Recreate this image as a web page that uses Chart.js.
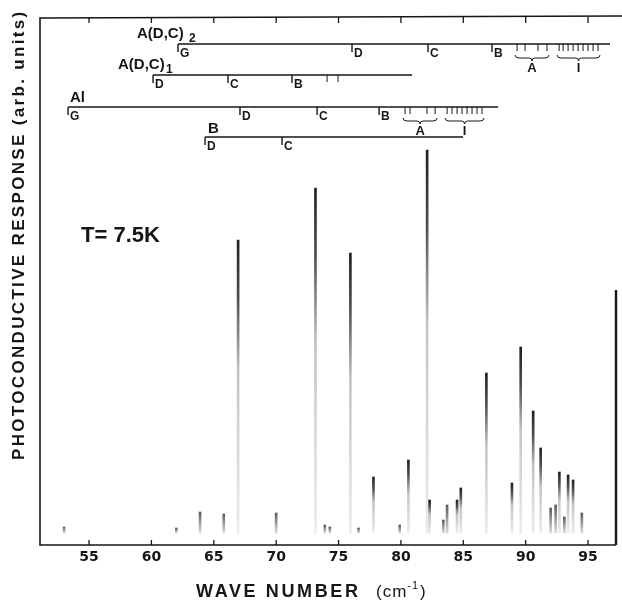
<!DOCTYPE html>
<html>
<head>
<meta charset="utf-8">
<script src="https://cdn.jsdelivr.net/npm/chart.js@4.4.1/dist/chart.umd.min.js"></script>
<style>
  html, body { margin: 0; padding: 0; background: #fff; }
</style>
</head>
<body>
<canvas id="spectrum" width="622" height="602"></canvas>
<script>
// x axis (wave number, cm-1)
const tickValues = [55, 60, 65, 70, 75, 80, 85, 90, 95];
const xMin = 51.07;
const xMax = 97.40;

// spectrum lines: position and height (arb. units)
const peakWaveNumbers = [53.0, 62.0, 63.9, 65.8, 66.95, 70.0, 73.15, 73.9, 74.3, 75.95, 76.6, 77.8,
  79.9, 80.6, 82.1, 82.3, 83.4, 83.7, 84.5, 84.8, 86.85, 88.9, 89.6, 90.6, 91.2, 92.0, 92.4, 92.7,
  93.1, 93.4, 93.8, 94.5];
const peakHeights = [1.2, 1.0, 4.2, 3.8, 58.6, 4.0, 69.0, 1.6, 1.2, 56.0, 1.0, 11.2,
  1.6, 14.6, 76.6, 6.6, 2.6, 5.6, 6.6, 9.0, 32.0, 10.0, 37.2, 24.4, 17.0, 5.0, 5.6, 12.2,
  3.2, 11.6, 10.6, 4.0];

// level series drawn above the spectrum
const adc2Marks = ['G', 'D', 'C', 'B'];
const adc2MarkValues = [62.13, 76.08, 82.17, 87.30];
const adc2AValues = [89.31, 89.95, 90.99, 91.71];
const adc2IValues = [92.68, 93.0, 93.4, 93.8, 94.2, 94.6, 95.0, 95.4, 95.8];
const adc2End = 96.76;

const adc1Marks = ['D', 'C', 'B'];
const adc1MarkValues = [60.13, 66.14, 71.27];
const adc1ExtraValues = [74.08, 74.96];
const adc1End = 80.89;

const alMarks = ['G', 'D', 'C', 'B'];
const alMarkValues = [53.32, 67.10, 73.28, 78.25];
const alAValues = [80.33, 80.73, 82.09, 82.74];
const alIValues = [83.70, 84.10, 84.50, 84.90, 85.30, 85.70, 86.10, 86.50];
const alEnd = 87.79;

const bMarks = ['D', 'C'];
const bMarkValues = [64.30, 70.47];
const bEnd = 84.98;

const INK = '#161616';
const FONT = '"Liberation Sans", Arial, sans-serif';

function brace(ctx, x1, x2, y) {
  const mid = (x1 + x2) / 2;
  ctx.beginPath();
  ctx.moveTo(x1, y);
  ctx.quadraticCurveTo(x1, y + 3, x1 + 4, y + 3);
  ctx.lineTo(mid - 3, y + 3);
  ctx.quadraticCurveTo(mid, y + 3, mid, y + 6);
  ctx.quadraticCurveTo(mid, y + 3, mid + 3, y + 3);
  ctx.lineTo(x2 - 4, y + 3);
  ctx.quadraticCurveTo(x2, y + 3, x2, y);
  ctx.stroke();
}

function levelRow(ctx, xs, y, marks, markValues, end, extra, groups) {
  ctx.lineWidth = 1.4;
  ctx.beginPath();
  ctx.moveTo(xs.getPixelForValue(markValues[0]), y);
  ctx.lineTo(xs.getPixelForValue(end), y);
  ctx.stroke();
  ctx.font = 'bold 12px ' + FONT;
  ctx.textAlign = 'left';
  ctx.textBaseline = 'alphabetic';
  markValues.forEach((v, i) => {
    const px = xs.getPixelForValue(v);
    ctx.beginPath();
    ctx.moveTo(px, y);
    ctx.lineTo(px, y + 8);
    ctx.stroke();
    ctx.fillText(marks[i], px + 2, y + 13);
  });
  ctx.lineWidth = 1;
  (extra || []).forEach(v => {
    const px = xs.getPixelForValue(v);
    ctx.beginPath();
    ctx.moveTo(px, y);
    ctx.lineTo(px, y + 7);
    ctx.stroke();
  });
  (groups || []).forEach(g => {
    g.values.forEach(v => {
      const px = xs.getPixelForValue(v);
      ctx.beginPath();
      ctx.moveTo(px, y);
      ctx.lineTo(px, y + 7);
      ctx.stroke();
    });
    const a = xs.getPixelForValue(g.values[0]) - 2;
    const b = xs.getPixelForValue(g.values[g.values.length - 1]) + 2;
    brace(ctx, a, b, y + 11);
    ctx.font = 'bold 13px ' + FONT;
    ctx.textAlign = 'center';
    ctx.fillText(g.label, (a + b) / 2, y + 28);
    ctx.textAlign = 'left';
  });
}

function fitText(ctx, text, x, y, width) {
  ctx.letterSpacing = '0px';
  const w = ctx.measureText(text).width;
  const sp = (width - w) / Math.max(1, text.length - 1);
  ctx.letterSpacing = sp.toFixed(2) + 'px';
  ctx.fillText(text, x, y);
  ctx.letterSpacing = '0px';
}

const decor = {
  id: 'decor',
  afterDraw(chart) {
    const ctx = chart.ctx;
    const a = chart.chartArea;
    const xs = chart.scales.x;
    ctx.save();
    ctx.strokeStyle = INK;
    ctx.fillStyle = INK;

    // frame
    ctx.lineWidth = 1.6;
    ctx.beginPath();
    ctx.moveTo(622, a.top - 2);
    ctx.lineTo(a.left, a.top);
    ctx.lineTo(a.left, a.bottom);
    ctx.lineTo(a.right - 2, a.bottom);
    ctx.stroke();
    ctx.lineWidth = 2.4;
    ctx.beginPath();
    ctx.moveTo(a.right - 2, 290);
    ctx.lineTo(a.right - 2, a.bottom);
    ctx.stroke();

    // inward ticks on top and bottom
    ctx.lineWidth = 1.3;
    tickValues.forEach(v => {
      const px = xs.getPixelForValue(v);
      ctx.beginPath();
      ctx.moveTo(px, a.bottom);
      ctx.lineTo(px, a.bottom - 5);
      ctx.moveTo(px, a.top - 1);
      ctx.lineTo(px, a.top + 5);
      ctx.stroke();
    });

    // level rows
    levelRow(ctx, xs, 44, adc2Marks, adc2MarkValues, adc2End, null,
      [{ label: 'A', values: adc2AValues }, { label: 'I', values: adc2IValues }]);
    levelRow(ctx, xs, 75, adc1Marks, adc1MarkValues, adc1End, adc1ExtraValues, null);
    levelRow(ctx, xs, 107, alMarks, alMarkValues, alEnd, null,
      [{ label: 'A', values: alAValues }, { label: 'I', values: alIValues }]);
    levelRow(ctx, xs, 137, bMarks, bMarkValues, bEnd, null, null);

    // row names
    ctx.textAlign = 'left';
    ctx.textBaseline = 'alphabetic';
    ctx.font = 'bold 15px ' + FONT;
    ctx.fillText('A(D,C)', 137, 38);
    ctx.fillText('A(D,C)', 118, 69);
    ctx.fillText('Al', 70, 102);
    ctx.fillText('B', 208, 133);
    ctx.font = 'bold 12px ' + FONT;
    ctx.fillText('2', 189, 42);
    ctx.fillText('1', 166, 73);

    // temperature
    ctx.font = 'bold 22px ' + FONT;
    ctx.fillText('T= 7.5K', 81, 242);

    // x title
    ctx.font = 'bold 18px ' + FONT;
    fitText(ctx, 'WAVE NUMBER', 196, 597, 162);
    ctx.font = '17px ' + FONT;
    ctx.letterSpacing = '1px';
    ctx.fillText('(cm', 376, 597);
    let w = ctx.measureText('(cm').width;
    ctx.font = '11px ' + FONT;
    ctx.fillText('-1', 376 + w, 589);
    const w2 = ctx.measureText('-1').width;
    ctx.font = '17px ' + FONT;
    ctx.fillText(')', 376 + w + w2 + 1, 597);
    ctx.letterSpacing = '0px';

    // y title
    ctx.save();
    ctx.translate(24, 460);
    ctx.rotate(-Math.PI / 2);
    ctx.font = 'bold 17px ' + FONT;
    fitText(ctx, 'PHOTOCONDUCTIVE RESPONSE (arb. units)', 0, 0, 448);
    ctx.restore();

    ctx.restore();
  }
};

function peakColor(c) {
  const chart = c.chart;
  if (!chart.chartArea || c.type !== 'data' || !chart.scales.y) return '#333';
  const ys = chart.scales.y;
  const top = ys.getPixelForValue(c.raw.y);
  const base = ys.getPixelForValue(0);
  const g = chart.ctx.createLinearGradient(0, base, 0, top);
  if (base - top < 30) {
    g.addColorStop(0, 'rgba(20,20,20,0.15)');
    g.addColorStop(1, 'rgba(20,20,20,0.7)');
    return g;
  }
  g.addColorStop(0, 'rgba(20,20,20,0.08)');
  g.addColorStop(0.55, 'rgba(20,20,20,0.25)');
  g.addColorStop(0.8, 'rgba(20,20,20,0.75)');
  g.addColorStop(1, 'rgba(20,20,20,0.95)');
  return g;
}

new Chart(document.getElementById('spectrum'), {
  type: 'bar',
  data: {
    datasets: [{
      label: 'Photoconductive response',
      data: peakWaveNumbers.map((x, i) => ({ x: x, y: peakHeights[i] })),
      backgroundColor: peakColor,
      borderWidth: 0,
      barThickness: 2
    }]
  },
  options: {
    responsive: false,
    devicePixelRatio: 1,
    animation: false,
    layout: { padding: { left: 40, right: 4, top: 18, bottom: 0 } },
    plugins: { legend: { display: false }, tooltip: { enabled: false } },
    scales: {
      x: {
        type: 'linear',
        min: xMin,
        max: xMax,
        offset: false,
        afterBuildTicks: s => { s.ticks = tickValues.map(v => ({ value: v })); },
        afterFit: s => { s.height = 57; },
        grid: { display: false, drawTicks: false },
        border: { display: false },
        ticks: {
          padding: 4,
          color: INK,
          font: { family: '"DejaVu Sans", sans-serif', weight: 'bold', size: 14 },
          maxRotation: 0
        }
      },
      y: {
        display: false,
        min: -2.4,
        max: 103
      }
    }
  },
  plugins: [decor]
});
</script>
</body>
</html>
